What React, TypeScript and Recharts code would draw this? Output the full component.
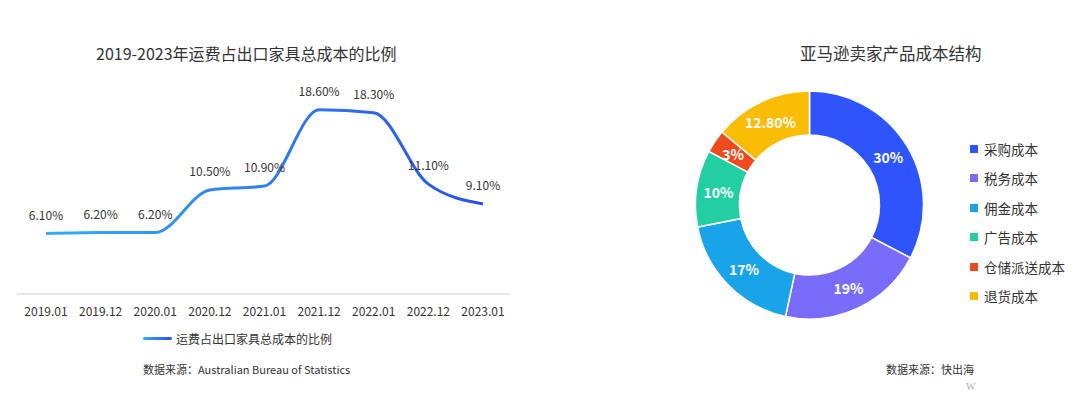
import { LineChart, Line, XAxis, YAxis, LabelList, PieChart, Pie, Cell } from 'recharts';

const months = ['2019.01', '2019.12', '2020.01', '2020.12', '2021.01', '2021.12', '2022.01', '2022.12', '2023.01'];
const freightShare = [6.1, 6.2, 6.2, 10.5, 10.9, 18.6, 18.3, 11.1, 9.1];

const costNames = ['采购成本', '税务成本', '佣金成本', '广告成本', '仓储派送成本', '退货成本'];
const costValues = [30, 19, 17, 10, 3, 12.8];
const costLabels = ['30%', '19%', '17%', '10%', '3%', '12.80%'];
const costColors = ['#2d55fb', '#7a6cfa', '#19a3e8', '#22cfa3', '#ee4a20', '#fbbc05'];

const FONT = '"Noto Sans CJK SC", "Noto Sans", sans-serif';

const lineData = months.map((m, i) => ({ month: m, value: freightShare[i] }));
const pieData = costNames.map((name, i) => ({ name, value: costValues[i] }));

const RAD = Math.PI / 180;

function SliceLabel(props: any) {
  const { cx, cy, midAngle, innerRadius, outerRadius, index } = props;
  const r = (innerRadius + outerRadius) / 2;
  const x = cx + r * Math.cos(-midAngle * RAD);
  const y = cy + r * Math.sin(-midAngle * RAD);
  return (
    <text x={x} y={y} fill="#fff" fontSize={14} fontWeight={700} textAnchor="middle" dominantBaseline="central" fontFamily={FONT}>
      {costLabels[index]}
    </text>
  );
}

export default function App() {
  return (
    <div style={{ position: 'absolute', left: 0, top: 0, width: 1080, height: 398, background: '#fff', fontFamily: FONT, color: '#333', overflow: 'hidden' }}>
      {/* left: freight share line */}
      <div style={{ position: 'absolute', left: 96, top: 41, fontSize: 16 }}>
        2019-2023年运费占出口家具总成本的比例
      </div>
      <div style={{ position: 'absolute', left: 0, top: 0 }}>
        <LineChart width={540} height={398} data={lineData} margin={{ top: 96, right: 30, bottom: 74, left: 17 }}>
          <defs>
            <linearGradient id="lineGrad" x1="0" y1="0" x2="1" y2="0">
              <stop offset="0%" stopColor="#33acf8" />
              <stop offset="100%" stopColor="#2b50ea" />
            </linearGradient>
          </defs>
          <XAxis
            dataKey="month"
            height={30}
            padding={{ left: 29, right: 27 }}
            axisLine={{ stroke: '#dddddd', strokeWidth: 1.5 }}
            tickLine={false}
            tickMargin={7}
            tick={{ fill: '#333', fontSize: 12, fontFamily: FONT }}
            interval={0}
          />
          <YAxis hide domain={[0, 20]} />
          <Line
            type="monotone"
            dataKey="value"
            stroke="url(#lineGrad)"
            strokeWidth={3}
            dot={false}
            isAnimationActive={false}
          >
            <LabelList
              dataKey="value"
              position="top"
              offset={14}
              formatter={(v: any) => `${Number(v).toFixed(2)}%`}
              style={{ fill: '#333', fontSize: 12, fontFamily: FONT }}
            />
          </Line>
        </LineChart>
      </div>
      <div style={{ position: 'absolute', left: 143, top: 330, display: 'flex', alignItems: 'center', fontSize: 12 }}>
        <span style={{ display: 'inline-block', width: 29, height: 3, borderRadius: 2, background: 'linear-gradient(90deg, #33acf8, #2b50ea)', marginRight: 4 }} />
        <span>运费占出口家具总成本的比例</span>
      </div>
      <div style={{ position: 'absolute', left: 143, top: 361, fontSize: 11 }}>数据来源：Australian Bureau of Statistics</div>

      {/* right: cost structure donut */}
      <div style={{ position: 'absolute', left: 800, top: 41, fontSize: 16.5 }}>亚马逊卖家产品成本结构</div>
      <div style={{ position: 'absolute', left: 540, top: 0 }}>
        <PieChart width={540} height={398} margin={{ top: 0, right: 0, bottom: 0, left: 0 }}>
          <Pie
            data={pieData}
            dataKey="value"
            nameKey="name"
            cx={269.5}
            cy={205}
            innerRadius={70}
            outerRadius={114}
            startAngle={90}
            endAngle={-270}
            stroke="#fff"
            strokeWidth={1.5}
            labelLine={false}
            label={SliceLabel}
            isAnimationActive={false}
          >
            {pieData.map((d, i) => (
              <Cell key={d.name} fill={costColors[i]} />
            ))}
          </Pie>
        </PieChart>
      </div>
      <div style={{ position: 'absolute', left: 970, top: 134 }}>
        {pieData.map((d, i) => (
          <div key={d.name} style={{ display: 'flex', alignItems: 'center', height: 29.5, fontSize: 13.5 }}>
            <span style={{ display: 'inline-block', width: 8, height: 8, background: costColors[i], marginRight: 6 }} />
            <span>{d.name}</span>
          </div>
        ))}
      </div>
      <div style={{ position: 'absolute', left: 886, top: 361, fontSize: 11 }}>数据来源：快出海</div>
      <div style={{ position: 'absolute', left: 966, top: 381, fontSize: 10, color: '#a9acc0', fontFamily: 'serif' }}>W</div>
    </div>
  );
}
